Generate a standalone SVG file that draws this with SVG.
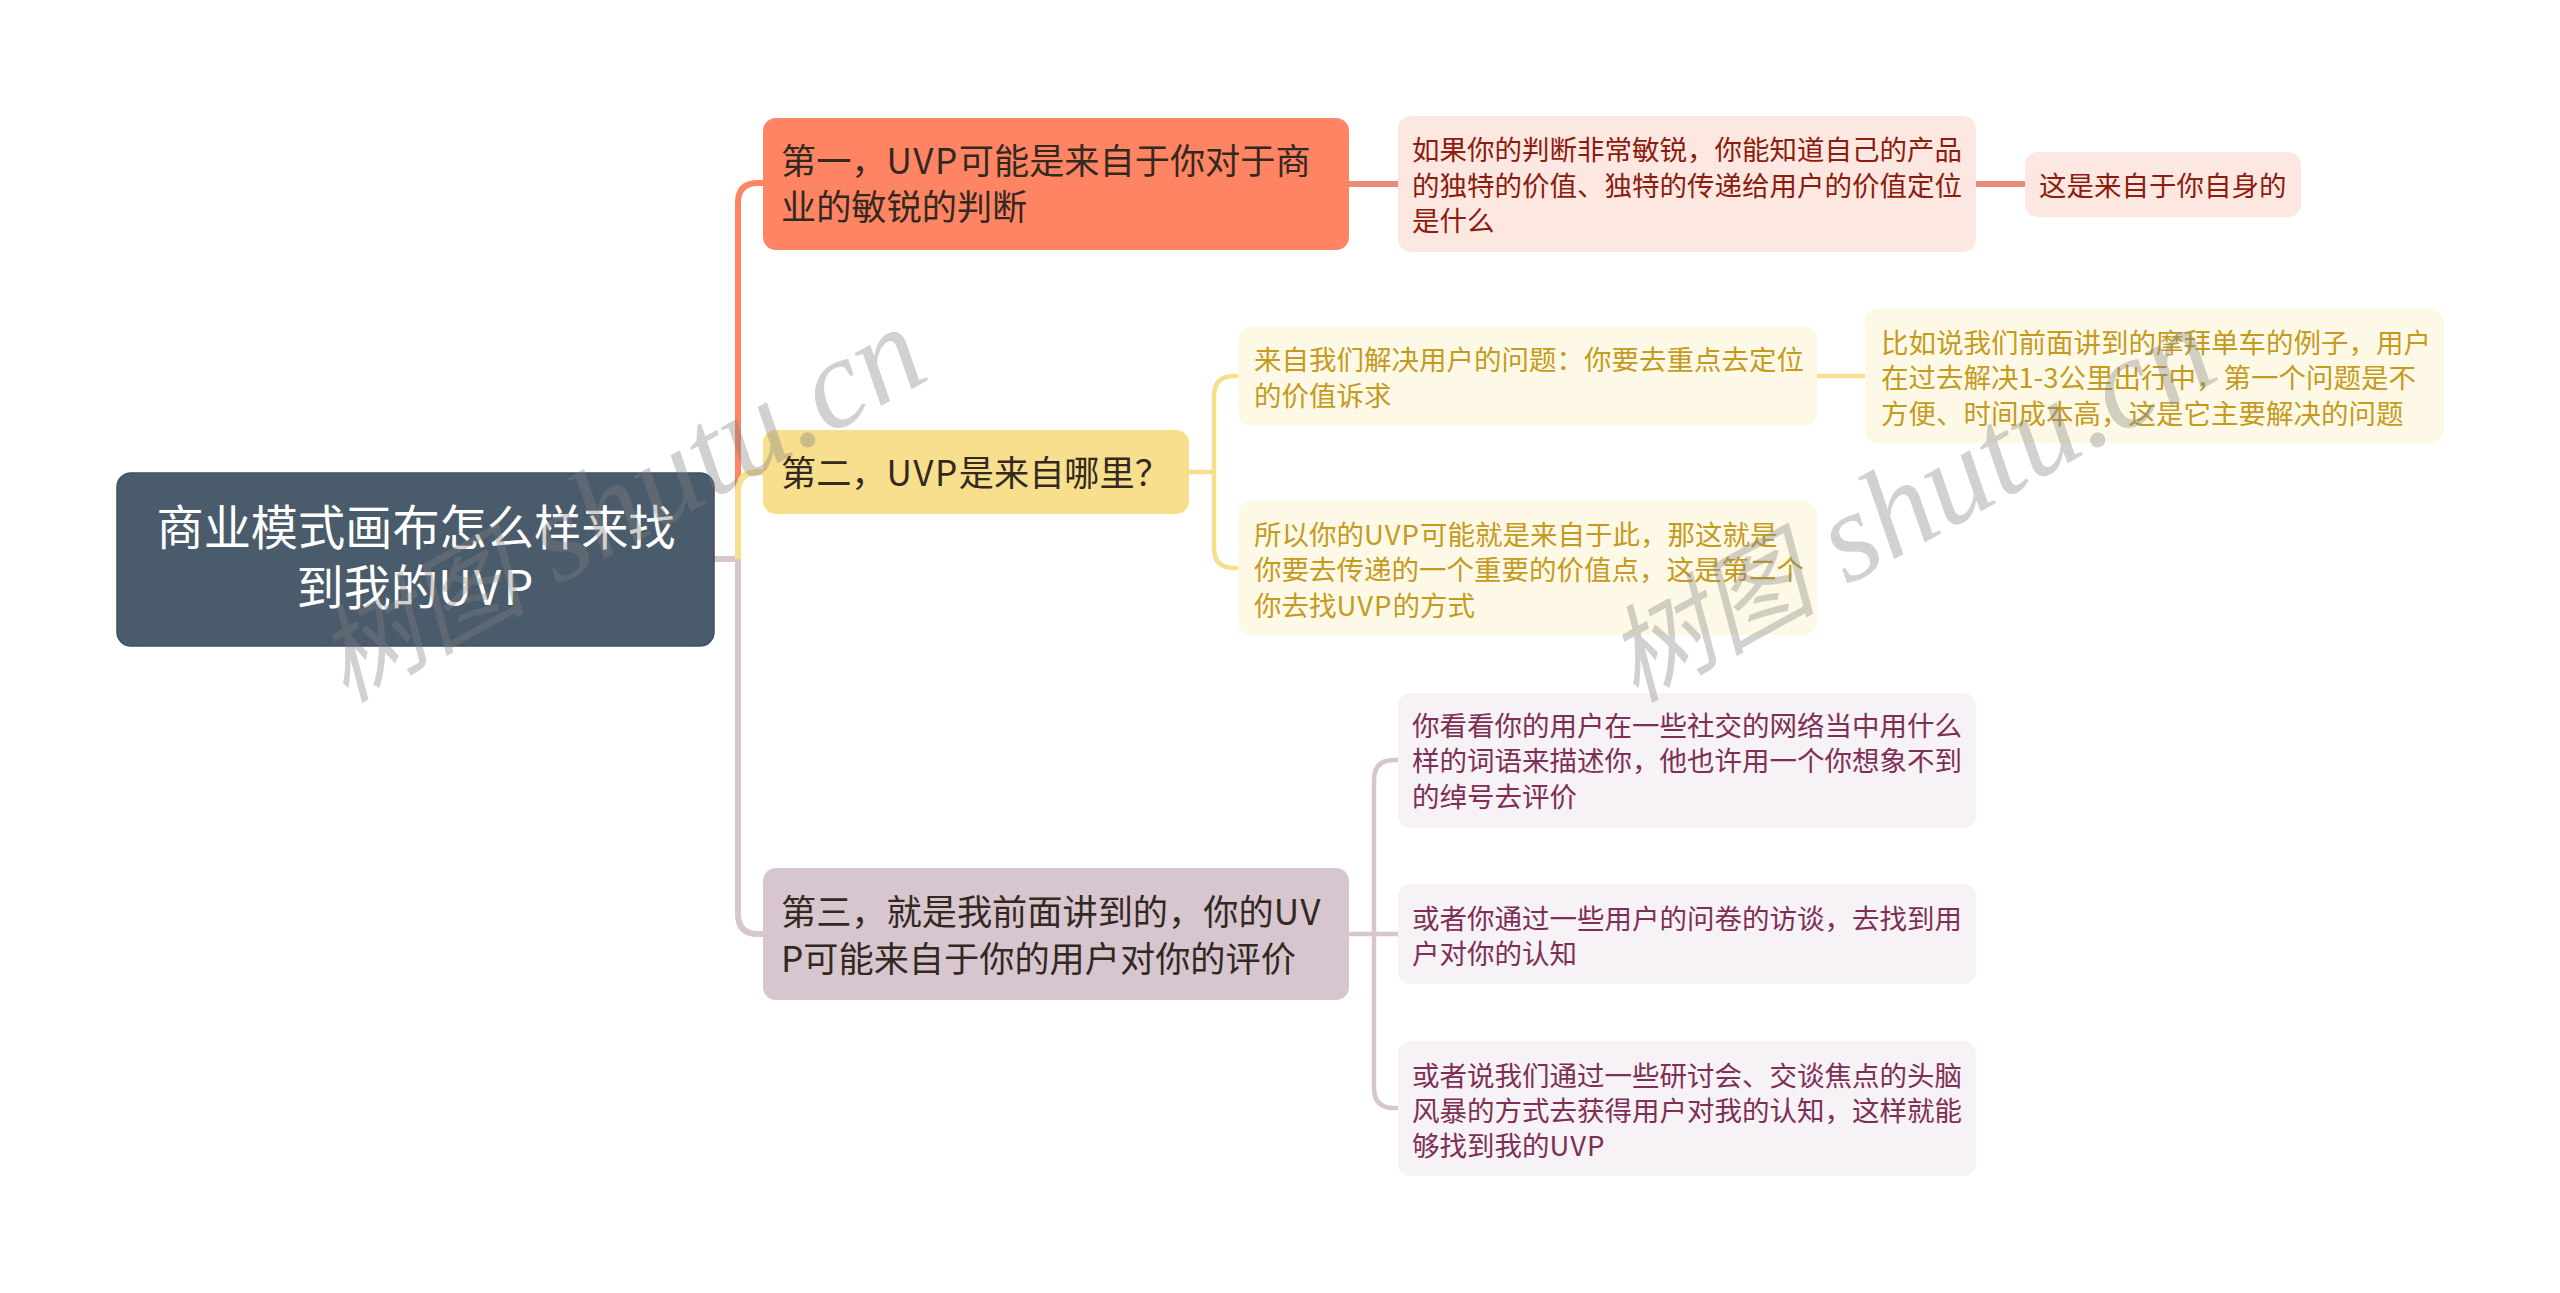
<svg xmlns="http://www.w3.org/2000/svg" width="2560" height="1293" viewBox="0 0 2560 1293">
<style>
text{font-family:"Noto Sans CJK SC","Noto Sans",sans-serif}
.c{fill:none;stroke-width:6;stroke-linecap:butt}
.d{stroke-width:4.5}
.r{stroke:#ff8463}.y{stroke:#f8df8e}.p{stroke:#d7c6cf}
.t0{font-size:47.2px;fill:#fff;text-anchor:middle}
.t1{font-size:35.2px;fill:#33291f}
.t2{font-size:27.5px}
.tr{fill:#8c1c0e}.ty{fill:#c49b1e}.tp{fill:#7e2f56}
.lr{fill:#fde7e1}.ly{fill:#fef9e7}.lp{fill:#f6f2f5}
.u0{letter-spacing:2.2px}.u1{letter-spacing:1.5px}.u2{letter-spacing:1px}
.wm{font-family:"Liberation Serif","Noto Sans CJK SC",serif;font-style:italic;font-size:128px;fill:#808080;fill-opacity:.36}
.wc{font-size:105px}
</style>
<rect width="2560" height="1293" fill="#fff"/>
<g id="connectors">
<path class="c r" d="M763 183H758Q738 183 738 203V559"/>
<path class="c p" d="M714 559H738V914Q738 934 758 934H763"/>
<path class="c y" d="M763 472H758Q738 472 738 492V559"/>
<path class="c r" d="M1349 184H1399M1975 184H2025" style="stroke:#ea8a78"/>
<path class="c d y" d="M1189 472H1214M1240 376H1234Q1214 376 1214 396V548Q1214 568 1234 568H1240M1815 376H1867"/>
<path class="c d p" d="M1348 934H1399M1399 760H1394Q1374 760 1374 780V1088Q1374 1108 1394 1108H1399"/>
</g>
<g id="root"><rect x="117" y="473" width="597" height="173" rx="14" fill="#4a5c6b" stroke="#3f505e" stroke-width="1.5"/>
<text class="t0" x="416" y="545">商业模式画布怎么样来找</text><text class="t0" x="416" y="605">到我的<tspan class="u0">UVP</tspan></text></g>
<g id="n1"><rect x="763" y="118" width="586" height="132" rx="13" fill="#ff8463"/>
<text class="t1" x="781" y="174">第一，<tspan class="u1">UVP</tspan>可能是来自于你对于商</text><text class="t1" x="781" y="220">业的敏锐的判断</text></g>
<g id="n2"><rect x="763" y="430" width="426" height="84" rx="13" fill="#f8df8e"/>
<text class="t1" x="781" y="486">第二，<tspan class="u1">UVP</tspan>是来自哪里？</text></g>
<g id="n3"><rect x="763" y="868" width="586" height="132" rx="13" fill="#d7c6cf"/>
<text class="t1" x="781" y="925">第三，就是我前面讲到的，你的<tspan class="u1">UV</tspan></text><text class="t1" x="781" y="972">P可能来自于你的用户对你的评价</text></g>
<g id="n1a"><rect x="1398" y="116" width="578" height="136" rx="13" class="lr"/>
<text class="t2 tr" x="1412" y="160">如果你的判断非常敏锐，你能知道自己的产品</text><text class="t2 tr" x="1412" y="196">的独特的价值、独特的传递给用户的价值定位</text><text class="t2 tr" x="1412" y="231">是什么</text></g>
<g id="n1b"><rect x="2025" y="152" width="276" height="65" rx="13" class="lr"/>
<text class="t2 tr" x="2039" y="196">这是来自于你自身的</text></g>
<g id="n2a"><rect x="1238" y="326" width="579" height="100" rx="13" class="ly"/>
<text class="t2 ty" x="1254" y="370">来自我们解决用户的问题：你要去重点去定位</text><text class="t2 ty" x="1254" y="406">的价值诉求</text></g>
<g id="n2b"><rect x="1238" y="501" width="579" height="134" rx="13" class="ly"/>
<text class="t2 ty" x="1254" y="545">所以你的<tspan class="u2">UVP</tspan>可能就是来自于此，那这就是</text><text class="t2 ty" x="1254" y="580">你要去传递的一个重要的价值点，这是第二个</text><text class="t2 ty" x="1254" y="616">你去找<tspan class="u2">UVP</tspan>的方式</text></g>
<g id="n2a1"><rect x="1865" y="309" width="579" height="134" rx="13" class="ly"/>
<text class="t2 ty" x="1881" y="353">比如说我们前面讲到的摩拜单车的例子，用户</text><text class="t2 ty" x="1881" y="388">在过去解决1-3公里出行中，第一个问题是不</text><text class="t2 ty" x="1881" y="424">方便、时间成本高，这是它主要解决的问题</text></g>
<g id="n3a"><rect x="1398" y="693" width="578" height="135" rx="13" class="lp"/>
<text class="t2 tp" x="1412" y="736">你看看你的用户在一些社交的网络当中用什么</text><text class="t2 tp" x="1412" y="771">样的词语来描述你，他也许用一个你想象不到</text><text class="t2 tp" x="1412" y="807">的绰号去评价</text></g>
<g id="n3b"><rect x="1398" y="884" width="578" height="100" rx="13" class="lp"/>
<text class="t2 tp" x="1412" y="929">或者你通过一些用户的问卷的访谈，去找到用</text><text class="t2 tp" x="1412" y="964">户对你的认知</text></g>
<g id="n3c"><rect x="1398" y="1041" width="578" height="135" rx="13" class="lp"/>
<text class="t2 tp" x="1412" y="1086">或者说我们通过一些研讨会、交谈焦点的头脑</text><text class="t2 tp" x="1412" y="1121">风暴的方式去获得用户对我的认知，这样就能</text><text class="t2 tp" x="1412" y="1156">够找到我的<tspan class="u2">UVP</tspan></text></g>
<g id="watermarks"><text class="wm" transform="translate(345 703) rotate(-29)"><tspan class="wc">树图</tspan> shutu.cn</text><text class="wm" transform="translate(1635 703) rotate(-29)"><tspan class="wc">树图</tspan> shutu.cn</text></g>
</svg>
